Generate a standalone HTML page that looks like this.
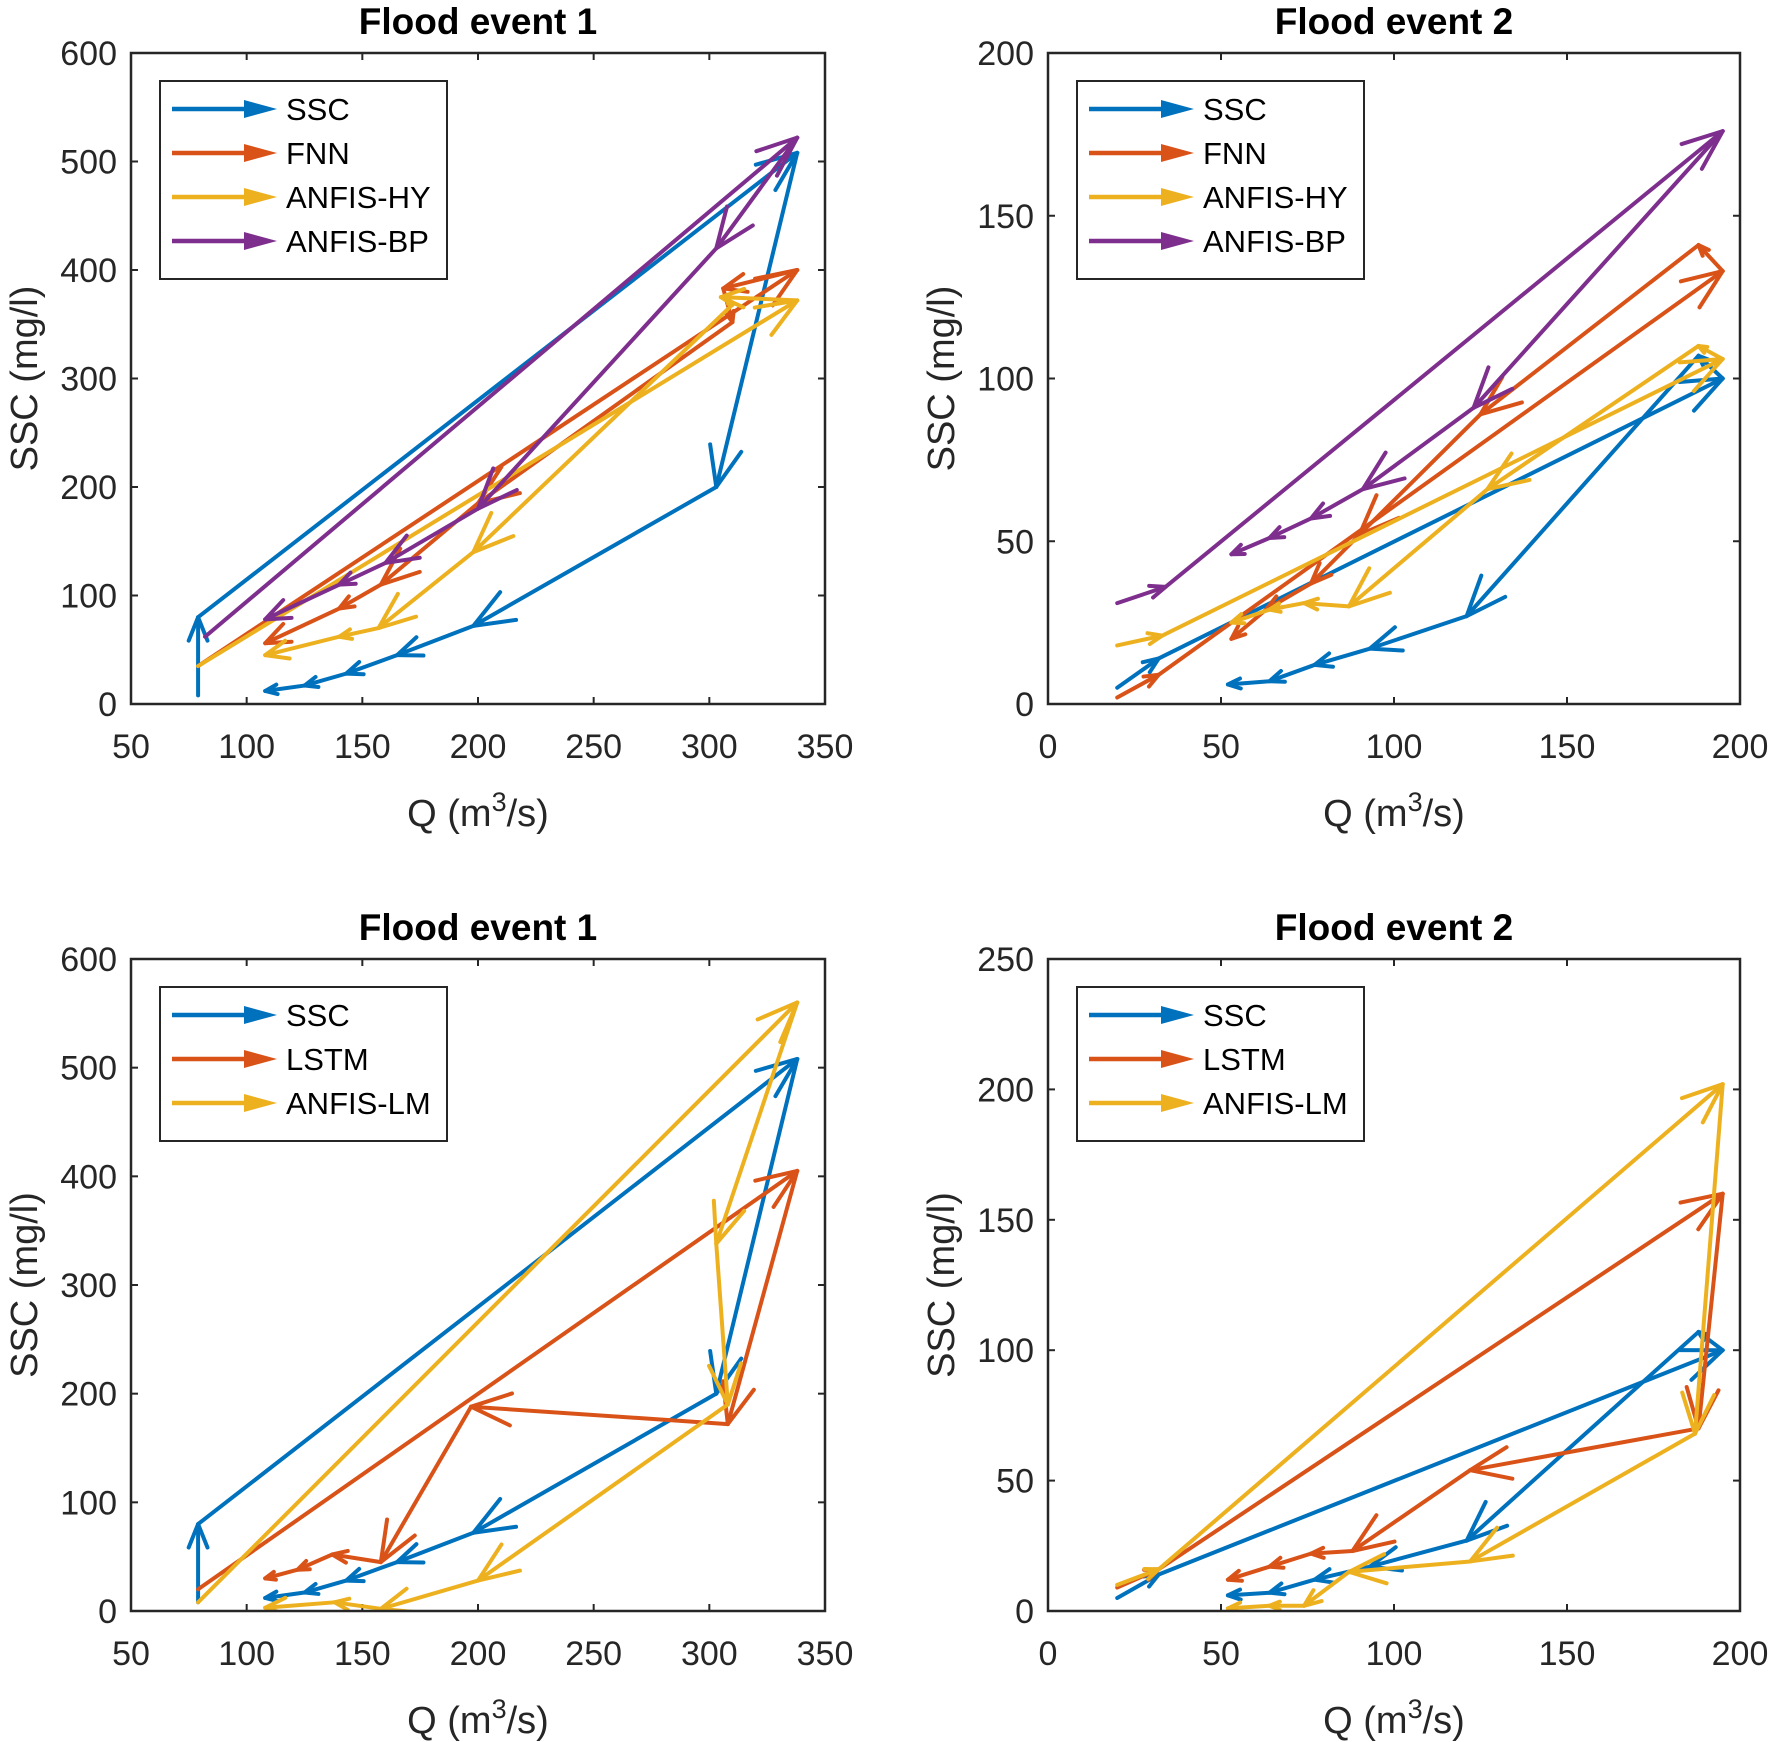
<!DOCTYPE html>
<html><head><meta charset="utf-8"><style>
body{margin:0;background:#fff;}
svg{display:block;font-family:"Liberation Sans",Arial,sans-serif;}
</style></head><body>
<svg id="chart" width="1772" height="1742" viewBox="0 0 1772 1742" xmlns="http://www.w3.org/2000/svg"></svg>
<script>
// ---- data ----
const p1SSC_Q=[79,79,338,303,198,165,143,125,108];
const p1SSC_S=[8,80,508,200,72,45,28,17,12];
const p1FNN_Q=[79,338,306,310,200,158,140,108];
const p1FNN_S=[35,400,383,352,185,110,88,56];
const p1HY_Q=[79,338,305,310,198,157,140,108];
const p1HY_S=[35,372,375,368,140,70,62,45];
const p1BP_Q=[82,338,303,200,160,140,108];
const p1BP_S=[62,522,420,180,130,110,78];

const p2SSC_Q=[20,32,195,188,121,93,77,64,52];
const p2SSC_S=[5,14,100,107,27,17,12,7,6];
const p2FNN_Q=[20,32,195,188,125,90,76,63,53];
const p2FNN_S=[2,9,133,141,89,52,37,29,20];
const p2HY_Q=[20,33,195,188,127,87,74,64,53];
const p2HY_S=[18,21,106,110,66,30,31,29,25];
const p2BP_Q=[20,34,195,123,91,76,64,53];
const p2BP_S=[31,36,176,91,66,57,51,46];

const p3LSTM_Q=[79,338,308,197,158,137,122,108];
const p3LSTM_S=[20,405,172,188,45,52,38,30];
const p3LM_Q=[79,338,303,308,200,158,138,108];
const p3LM_S=[8,560,338,190,28,2,8,3];

const p4LSTM_Q=[20,32,195,188,122,88,76,64,52];
const p4LSTM_S=[9,16,160,70,54,23,22,17,12];
const p4LM_Q=[20,32,195,187,122,87,74,64,52];
const p4LM_S=[10,16,202,68,19,15,2,2,1];

const xTicks1=[50,100,150,200,250,300,350];
const yTicks1=[0,100,200,300,400,500,600];
const xTicks2=[0,50,100,150,200];
const yTicks2=[0,50,100,150,200];
const yTicks4=[0,50,100,150,200,250];

const C={blue:'#0072BD',orange:'#D95319',yellow:'#EDB120',purple:'#7E2F8E'};
const NS='http://www.w3.org/2000/svg';
const svg=document.getElementById('chart');
function mk(tag,attrs,parent){const e=document.createElementNS(NS,tag);for(const k in attrs)e.setAttribute(k,attrs[k]);(parent||svg).appendChild(e);return e;}

const panels=[
 {id:'top-left',L:131,R:825,T:53,B:704,xd:[50,350],yd:[0,600],xt:xTicks1,yt:yTicks1,title:'Flood event 1',
  series:[['SSC',C.blue,p1SSC_Q,p1SSC_S],['FNN',C.orange,p1FNN_Q,p1FNN_S],['ANFIS-HY',C.yellow,p1HY_Q,p1HY_S],['ANFIS-BP',C.purple,p1BP_Q,p1BP_S]]},
 {id:'top-right',L:1048,R:1740,T:53,B:704,xd:[0,200],yd:[0,200],xt:xTicks2,yt:yTicks2,title:'Flood event 2',
  series:[['SSC',C.blue,p2SSC_Q,p2SSC_S],['FNN',C.orange,p2FNN_Q,p2FNN_S],['ANFIS-HY',C.yellow,p2HY_Q,p2HY_S],['ANFIS-BP',C.purple,p2BP_Q,p2BP_S]]},
 {id:'bottom-left',L:131,R:825,T:959,B:1611,xd:[50,350],yd:[0,600],xt:xTicks1,yt:yTicks1,title:'Flood event 1',
  series:[['SSC',C.blue,p1SSC_Q,p1SSC_S],['LSTM',C.orange,p3LSTM_Q,p3LSTM_S],['ANFIS-LM',C.yellow,p3LM_Q,p3LM_S]]},
 {id:'bottom-right',L:1048,R:1740,T:959,B:1611,xd:[0,200],yd:[0,250],xt:xTicks2,yt:yTicks4,title:'Flood event 2',
  series:[['SSC',C.blue,p2SSC_Q,p2SSC_S],['LSTM',C.orange,p4LSTM_Q,p4LSTM_S],['ANFIS-LM',C.yellow,p4LM_Q,p4LM_S]]}
];

panels.forEach(p=>{
  const g=mk('g',{});
  
  
  const sx=v=>p.L+(v-p.xd[0])/(p.xd[1]-p.xd[0])*(p.R-p.L);
  const sy=v=>p.B-(v-p.yd[0])/(p.yd[1]-p.yd[0])*(p.B-p.T);
  const cx=(p.L+p.R)/2, cy=(p.T+p.B)/2;
  const t=mk('text',{x:cx,y:p.T-19,'text-anchor':'middle','font-size':37,'font-weight':'bold',fill:'#000'},g);
  
  t.textContent=p.title;
  p.xt.forEach(v=>{
    const x=sx(v);
    mk('line',{x1:x,y1:p.B,x2:x,y2:p.B-7,stroke:'#262626','stroke-width':2},g);
    mk('line',{x1:x,y1:p.T,x2:x,y2:p.T+7,stroke:'#262626','stroke-width':2},g);
    const l=mk('text',{x:x,y:p.B+54,'text-anchor':'middle','font-size':34,fill:'#262626'},g);
    
    l.textContent=v;
  });
  p.yt.forEach(v=>{
    const y=sy(v);
    mk('line',{x1:p.L,y1:y,x2:p.L+7,y2:y,stroke:'#262626','stroke-width':2},g);
    mk('line',{x1:p.R,y1:y,x2:p.R-7,y2:y,stroke:'#262626','stroke-width':2},g);
    const l=mk('text',{x:p.L-14,y:y+12,'text-anchor':'end','font-size':34,fill:'#262626'},g);
    
    l.textContent=v;
  });
  const xl=mk('text',{x:cx,y:p.B+122,'text-anchor':'middle','font-size':38,fill:'#262626'},g);
  
  xl.innerHTML='Q (m<tspan dy="-15" font-size="27">3</tspan><tspan dy="15">/s)</tspan>';
  const yl=mk('text',{x:0,y:0,'text-anchor':'middle','font-size':38,fill:'#262626',transform:`translate(${p.L-94},${cy}) rotate(-90)`},g);
  
  yl.textContent='SSC (mg/l)';
  const clip='clip-'+p.id;
  const cp=mk('clipPath',{id:clip},g);mk('rect',{x:p.L,y:p.T,width:p.R-p.L,height:p.B-p.T},cp);
  p.series.forEach(s=>{
    const sg=mk('g',{'clip-path':`url(#${clip})`},g);
    
    
    const Q=s[2],S=s[3];
    for(let i=0;i<Q.length-1;i++){
      const x1=sx(Q[i]),y1=sy(S[i]),x2=sx(Q[i+1]),y2=sy(S[i+1]);
      const ln=mk('line',{x1,y1,x2,y2,stroke:s[1],'stroke-width':4,'stroke-linecap':'round'},sg);
      
      const len=Math.hypot(x2-x1,y2-y1);if(len<1)continue;
      const h=Math.min(0.3*len,40),ux=(x2-x1)/len,uy=(y2-y1)/len,w=h*0.4;
      const bx=x2-ux*h,by=y2-uy*h;
      const hd=mk('polyline',{points:`${bx-uy*w},${by+ux*w} ${x2},${y2} ${bx+uy*w},${by-ux*w}`,fill:'none',stroke:s[1],'stroke-width':4,'stroke-linejoin':'round','stroke-linecap':'round'},sg);
      
    }
  });
  mk('rect',{x:p.L,y:p.T,width:p.R-p.L,height:p.B-p.T,fill:'none',stroke:'#262626','stroke-width':2.5},g);
  const lg=mk('g',{},g);
  
  const lx=p.L+29,ly=p.T+28,n=p.series.length;
  mk('rect',{x:lx,y:ly,width:287,height:22+n*44,fill:'#fff',stroke:'#262626','stroke-width':2},lg);
  p.series.forEach((s,i)=>{
    const y=ly+28+i*44;
    const e=mk('g',{},lg);
    
    mk('line',{x1:lx+12,y1:y,x2:lx+90,y2:y,stroke:s[1],'stroke-width':4.5},e);
    mk('polygon',{points:`${lx+84},${y-9} ${lx+117},${y} ${lx+84},${y+9}`,fill:s[1]},e);
    const tx=mk('text',{x:lx+126,y:y+11,'font-size':31,fill:'#000'},e);
    tx.textContent=s[0];
  });
});
</script>
</body></html>
